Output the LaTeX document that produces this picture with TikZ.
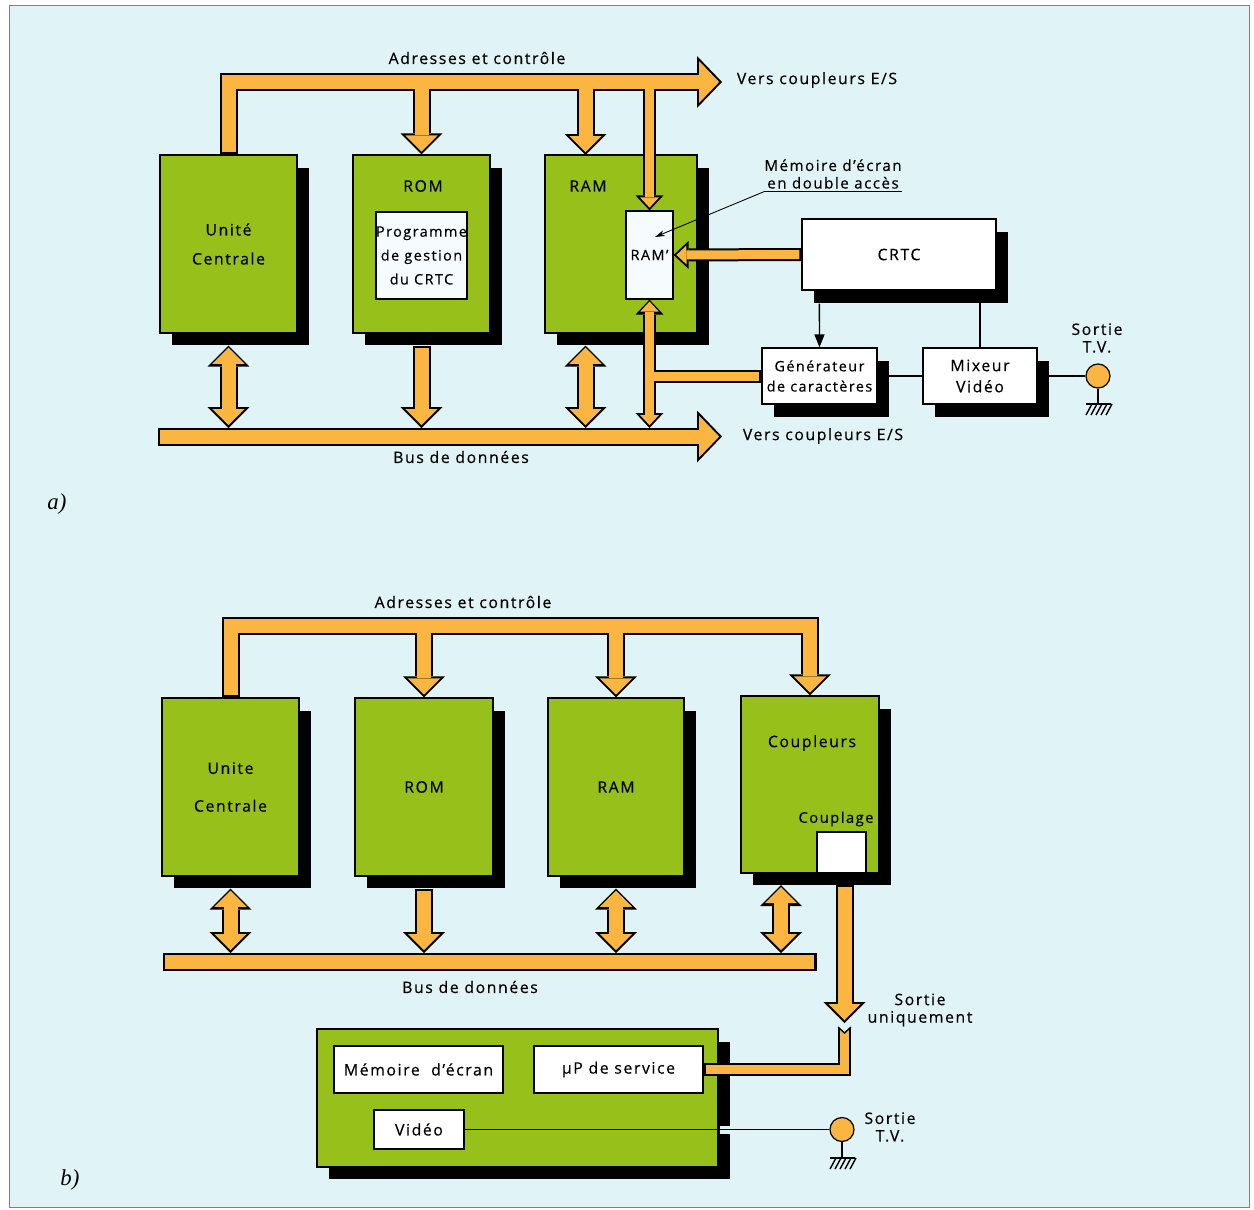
\documentclass[tikz,border=0pt]{standalone}
\usepackage{fontspec}
\setmainfont{Open Sans}[LetterSpace=10, FakeBold=0.4]
\newfontfamily\tagfont{Liberation Serif}
\usetikzlibrary{arrows.meta, positioning, calc, shadows}
\definecolor{paper}{RGB}{224,244,248}
\definecolor{chip}{RGB}{152,192,26}
\definecolor{busorange}{RGB}{250,182,64}
\definecolor{inset}{RGB}{246,252,253}

\begin{document}
\begin{tikzpicture}[x=0.02cm, y=-0.02cm, line join=miter,
    every node/.style={font=\fontsize{9}{10}\selectfont, inner sep=0pt},
    chipbox/.style={rectangle, draw, line width=0.7pt, fill=chip, align=center,
        drop shadow={shadow xshift=0.24cm, shadow yshift=-0.25cm, fill=black, opacity=1}},
    unitbox/.style={rectangle, draw, line width=0.7pt, fill=white, align=center,
        drop shadow={shadow xshift=0.24cm, shadow yshift=-0.26cm, fill=black, opacity=1}},
    insetbox/.style={rectangle, draw, line width=0.7pt, fill=inset, align=center},
    jack/.style={circle, draw, line width=0.7pt, fill=busorange, minimum size=0.48cm,
        path picture={\fill (path picture bounding box.center) circle (0.075cm);}},
    wire/.style={draw, line width=0.8pt},
    busrim/.style={draw=black,
        wide/.style={line width=0.36cm}, narrow/.style={line width=0.26cm},
        bighead/.style={>={Triangle[width=1.04cm, length=0.5cm, line width=0pt]}},
        midhead/.style={>={Triangle[width=0.84cm, length=0.42cm, line width=0pt]}},
        smallhead/.style={>={Triangle[width=0.56cm, length=0.3cm, line width=0pt]}}},
    buscore/.style={draw=busorange, shorten >=0.056cm, shorten <=0.04cm,
        wide/.style={line width=0.28cm}, narrow/.style={line width=0.18cm},
        bighead/.style={>={Triangle[width=0.84cm, length=0.404cm, line width=0pt]}},
        midhead/.style={>={Triangle[width=0.646cm, length=0.324cm, line width=0pt]}},
        smallhead/.style={>={Triangle[width=0.376cm, length=0.202cm, line width=0pt]}}}
]
    \useasboundingbox (0,0) rectangle (1254,1210);
    \fill[white] (0,0) rectangle (1254,1210);
    \draw[gray, line width=0.5pt, fill=paper] (9,5) rectangle (1249,1207);

    % a)
    \node[chipbox, minimum width=2.74cm, minimum height=3.56cm] (uca) at (228.5,244) {Unité\\[6.5pt]Centrale};
    \node[chipbox, minimum width=2.74cm, minimum height=3.56cm] (roma) at (421.5,244) {};
    \node (romlbla) at (423,186) {ROM};
    \node[insetbox, minimum width=1.82cm, minimum height=1.74cm, font=\fontsize{8.2}{10}\selectfont] (proga) at (421.5,255.5)
        {Programme\\[3.6pt]de gestion\\[3.6pt]du CRTC};
    \node[chipbox, minimum width=3.04cm, minimum height=3.56cm] (rama) at (621,244) {};
    \node (ramlbla) at (588,186) {RAM};
    \node[insetbox, minimum width=0.94cm, minimum height=1.76cm, font=\fontsize{8.2}{10}\selectfont] (rampa) at (649.5,255) {RAM’};
    \node[unitbox, minimum width=3.88cm, minimum height=1.42cm] (crtc) at (899,254.5) {CRTC};
    \node[unitbox, minimum width=2.3cm, minimum height=1.12cm, font=\fontsize{8.2}{10}\selectfont] (gen) at (819.5,376) {Générateur\\[1.5pt]de caractères};
    \node[unitbox, minimum width=2.28cm, minimum height=1.12cm] (mix) at (980,376) {Mixeur\\[2pt]Vidéo};
    \node[jack] (tva) at (1098,376) {};
    \node[align=center, font=\fontsize{8.6}{10}\selectfont] (memlbl) at (833,174) {Mémoire d’écran\\en double accès};
    \node (adrlbla) at (477,58) {Adresses et contrôle};
    \node (verslbla) at (817,80) {Vers coupleurs E/S};
    \node (buslbla) at (461,457) {Bus de données};
    \node (ioslbla) at (823,436) {Vers coupleurs E/S};
    \node[align=center] (tvlbla) at (1097,338) {Sortie\\T.V.};
    \node[font=\tagfont\itshape\fontsize{13}{13}\selectfont] (taga) at (57,504) {a)};

    \coordinate (adra) at (228.5,82);
    \coordinate (adratip) at (722,82);
    \coordinate (ramin) at (585.5,155);
    \coordinate (dataa) at (158,436.5);
    \coordinate (dataatip) at (722,436.5);
    \coordinate (dataatop) at (0,428);
    \coordinate (rampin) at (655,237);
    \coordinate (gnda) at (1098,404);

    % b)
    \node[chipbox, minimum width=2.74cm, minimum height=3.56cm] (ucb) at (230.5,787) {Unite\\[11.5pt]Centrale};
    \node[chipbox, minimum width=2.76cm, minimum height=3.56cm] (romb) at (424,787) {ROM};
    \node[chipbox, minimum width=2.72cm, minimum height=3.56cm] (ramb) at (616,787) {RAM};
    \node[chipbox, minimum width=2.76cm, minimum height=3.54cm] (coupb) at (810,784.5) {};
    \node (couplbl) at (812,743) {Coupleurs};
    \node[font=\fontsize{8.4}{10}\selectfont] (cplglbl) at (836,819) {Couplage};
    \node[insetbox, fill=white, minimum width=0.98cm, minimum height=0.82cm] (cplgb) at (841.5,852.5) {};
    \node[chipbox, minimum width=8.02cm, minimum height=2.76cm] (bigb) at (517.5,1098) {};
    \node[insetbox, fill=white, minimum width=3.38cm, minimum height=0.94cm] (memb) at (418.5,1069.5) {Mémoire\ \ d’écran};
    \node[insetbox, fill=white, minimum width=3.38cm, minimum height=0.94cm] (upb) at (618.5,1069.5) {µP de service};
    \node[insetbox, fill=white, minimum width=1.8cm, minimum height=0.78cm] (vidb) at (419,1129.5) {Vidéo};
    \node[jack] (tvb) at (842,1129.5) {};
    \node (adrlblb) at (463,602) {Adresses et contrôle};
    \node (buslblb) at (470,987) {Bus de données};
    \node[align=center] (outlbl) at (920,1010) {Sortie\\uniquement};
    \node[align=center] (tvlblb) at (890,1127) {Sortie\\T.V.};
    \node[font=\tagfont\itshape\fontsize{13}{13}\selectfont] (tagb) at (70,1180) {b)};

    \coordinate (adrb) at (230.5,625.5);
    \coordinate (datab) at (163,961.5);
    \coordinate (databend) at (817,961.5);
    \coordinate (databtop) at (0,953);
    \coordinate (coupbi) at (781,873);
    \coordinate (outb) at (844.5,885);
    \coordinate (outbtip) at (844.5,1023);
    \coordinate (outbtop) at (844.5,1027);
    \coordinate (outbend) at (844.5,1069.5);
    \coordinate (gndb) at (842,1158);

    % buses: black rim first, orange core on top
    \foreach \pass in {busrim,buscore}{
        \begin{scope}[\pass]
            \draw[wide, ->, bighead] (uca.north) -- (adra) -- (adratip);
            \draw[wide, ->, midhead] (roma.north |- adra) -- (roma.north);
            \draw[wide, ->, midhead] (ramin |- adra) -- (ramin);
            \draw[narrow, ->, smallhead] (rampa.north |- adra) -- (rampa.north);
            \draw[narrow, ->, smallhead] (crtc.west) -- (rampa.east);
            \draw[narrow, <->, smallhead] (rampa.south) -- (rampa.south |- dataatop);
            \draw[narrow] (rampa.south |- gen.west) -- (gen.west);
            \draw[wide, ->, bighead] (dataa) -- (dataatip);
            \draw[wide, <->, midhead] ($(uca.south)+(0,12)$) -- (uca.south |- dataatop);
            \draw[wide, ->, midhead] ($(roma.south)+(0,12)$) -- (roma.south |- dataatop);
            \draw[wide, <->, midhead] ($(ramin |- rama.south)+(0,12)$) -- (ramin |- dataatop);

            \draw[wide, ->, midhead] (ucb.north) -- (adrb) -- (coupb.north |- adrb) -- (coupb.north);
            \draw[wide, ->, midhead] (romb.north |- adrb) -- (romb.north);
            \draw[wide, ->, midhead] (ramb.north |- adrb) -- (ramb.north);
            \draw[wide] (datab) -- (databend);
            \draw[wide, <->, midhead] ($(ucb.south)+(0,12)$) -- (ucb.south |- databtop);
            \draw[wide, ->, midhead] ($(romb.south)+(0,12)$) -- (romb.south |- databtop);
            \draw[wide, <->, midhead] ($(ramb.south)+(0,12)$) -- (ramb.south |- databtop);
            \draw[wide, <->, midhead] ($(coupbi)+(0,12)$) -- (coupbi |- databtop);
            \draw[wide, ->, midhead] (outb) -- (outbtip);
            \draw[narrow] (outbtop) -- (outbend) -- (upb.east);
        \end{scope}
    }
    \fill[paper] ($(outbtop)+(-7.5,-1)$) -- ($(outbtop)+(0,6)$) -- ($(outbtop)+(7.5,-1)$) -- cycle;
    \draw[wire] ($(outbtop)+(-6.5,0)$) -- ($(outbtop)+(0,6)$) -- ($(outbtop)+(6.5,0)$);

    % thin wires
    \draw[wire, -{Triangle[width=0.2cm, length=0.26cm]}] ($(crtc.south west)+(18,13)$) -- (gen.north);
    \draw[wire] (mix.north |- crtc.south) -- (mix.north);
    \draw[wire] (gen.east) -- (mix.west);
    \draw[wire] (mix.east) -- (tva);
    \draw[wire] ([yshift=-1.5pt]memlbl.south west) -- ([yshift=-1.5pt]memlbl.south east);
    \draw[wire, line width=0.5pt, -{Stealth[length=0.2cm, width=0.12cm]}] ([yshift=-1.5pt]memlbl.south west) -- (rampin);
    \draw[paper, line width=0.16cm] ($(bigb.east |- vidb.east)+(1,0)$) -- ++(13,0);
    \draw[wire] (vidb.east) -- (tvb);

    % earth
    \draw[wire] (tva.south) -- (gnda);
    \draw[wire] ($(gnda)+(-12,0)$) -- ($(gnda)+(13,0)$);
    \foreach \dx in {-6,-1,4,9,14}
        \draw[wire] ($(gnda)+(\dx,0)$) -- ++(-6,11);
    \draw[wire] (tvb.south) -- (gndb);
    \draw[wire] ($(gndb)+(-12,0)$) -- ($(gndb)+(13,0)$);
    \foreach \dx in {-6,-1,4,9,14}
        \draw[wire] ($(gndb)+(\dx,0)$) -- ++(-6,11);
\end{tikzpicture}
\end{document}
